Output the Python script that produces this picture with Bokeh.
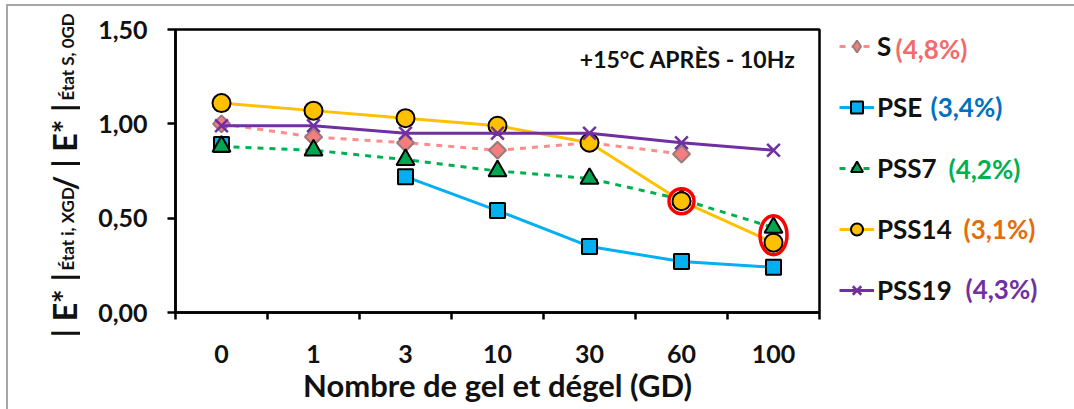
import math
from bokeh.plotting import figure
from bokeh.layouts import row
from bokeh.models import FixedTicker, Label, Legend, LegendItem, Range1d
from bokeh.embed import file_html
from bokeh.resources import INLINE

nan = float("nan")

categories = ["0", "1", "3", "10", "30", "60", "100"]
S = [1.00, 0.93, 0.90, 0.86, 0.90, 0.84, nan]
PSE = [0.89, nan, 0.72, 0.54, 0.35, 0.27, 0.24]
PSS7 = [0.88, 0.86, 0.81, 0.75, 0.71, 0.60, 0.45]
PSS14 = [1.11, 1.07, 1.03, 0.99, 0.90, 0.59, 0.37]
PSS19 = [0.99, 0.99, 0.95, 0.95, 0.95, 0.90, 0.86]

series_names = ["S", "PSE", "PSS7", "PSS14", "PSS19"]
series_pct = ["(4,8%)", "(3,4%)", "(4,2%)", "(3,1%)", "(4,3%)"]
pct_colors = ["#F26B6B", "#0070C0", "#00B050", "#E46C0A", "#7030A0"]
y_ticks = [0.0, 0.5, 1.0, 1.5]
y_tick_labels = ["0,00", "0,50", "1,00", "1,50"]

xs = list(range(len(categories)))
FONT = "Lato"
TXT = "#111111"
H = 403

# ---------------- main chart ----------------
p = figure(width=742, height=H, output_backend="svg", toolbar_location=None,
           x_range=(-0.5, len(categories) - 0.5), y_range=(0, 1.5),
           min_border_left=95, min_border_right=3, min_border_top=23,
           min_border_bottom=97, background_fill_color="white",
           border_fill_color="white", frame_align=False)
p.grid.visible = False
p.outline_line_color = "black"
p.outline_line_width = 2.5

p.xaxis.ticker = FixedTicker(ticks=xs, minor_ticks=[i - 0.5 for i in range(len(categories) + 1)])
p.xaxis.major_label_overrides = {i: c for i, c in zip(xs, categories)}
p.xaxis.major_tick_out = 0
p.xaxis.major_tick_in = 0
p.xaxis.minor_tick_out = 7
p.xaxis.minor_tick_in = 0
p.xaxis.major_label_standoff = 25
p.xaxis.axis_label = "Nombre de gel et dégel (GD)"
p.xaxis.axis_label_standoff = 0
p.xaxis.axis_label_text_font = FONT
p.xaxis.axis_label_text_font_style = "bold"
p.xaxis.axis_label_text_font_size = "31px"
p.xaxis.axis_label_text_color = TXT
p.yaxis.ticker = FixedTicker(ticks=y_ticks)
p.yaxis.major_label_overrides = {t: l for t, l in zip(y_ticks, y_tick_labels)}
p.yaxis.major_tick_out = 8
p.yaxis.major_tick_in = 0
p.yaxis.minor_tick_out = 0
p.yaxis.minor_tick_in = 0
p.yaxis.major_label_standoff = 20
for ax in (p.xaxis, p.yaxis):
    ax.axis_line_width = 2.5
    ax.axis_line_color = "black"
    ax.major_tick_line_width = 2.5
    ax.minor_tick_line_width = 2.5
    ax.major_tick_line_color = "black"
    ax.minor_tick_line_color = "black"
    ax.major_label_text_font = FONT
    ax.major_label_text_font_style = "bold"
    ax.major_label_text_font_size = "25px"
    ax.major_label_text_color = TXT

styles = [
    dict(color="#FF8C8C", dash="dashed", marker="square", angle=math.pi / 4, size=12,
         fill="#F47E7E", mline="#9a7a7a", lmarker="diamond"),
    dict(color="#00B0F0", dash="solid", marker="square", angle=0, size=15,
         fill="#00B0F0", mline="black", lmarker="square"),
    dict(color="#00B050", dash="dashed", marker="triangle", angle=0, size=18,
         fill="#00A651", mline="black", lmarker="triangle"),
    dict(color="#FFC000", dash="solid", marker="circle", angle=0, size=18,
         fill="#FFC000", mline="black", lmarker="circle"),
    dict(color="#7030A0", dash="solid", marker="x", angle=0, size=18,
         fill="#7030A0", mline="#7030A0", lmarker="x"),
]
data = [S, PSE, PSS7, PSS14, PSS19]


def draw_series(fig, xv, yv, st, marker=None, angle=None, **kw):
    marker = marker or st["marker"]
    angle = st["angle"] if angle is None else angle
    lr = fig.line(xv, yv, line_color=st["color"], line_width=3, line_dash=st["dash"], **kw)
    if marker == "x":
        sr = fig.scatter(xv, yv, marker="x", size=st["size"], line_color=st["color"],
                         line_width=2.5, **kw)
    else:
        sr = fig.scatter(xv, yv, marker=marker, size=st["size"], angle=angle,
                         fill_color=st["fill"], line_color=st["mline"], line_width=2, **kw)
    return lr, sr


for ys, st in zip(data, styles):
    draw_series(p, xs, ys, st)

# highlight ellipses
p.ellipse(x=[xs[5]], y=[PSS14[5]], width=25, height=25, width_units="screen",
          height_units="screen", fill_color=None, line_color="#FF0000", line_width=3.5)
p.ellipse(x=[xs[6]], y=[(PSS7[6] + PSS14[6]) / 2], width=27, height=39,
          width_units="screen", height_units="screen", fill_color=None,
          line_color="#FF0000", line_width=3.5)

p.add_layout(Label(x=620, y=254, x_units="screen", y_units="screen",
                   text="+15°C APRÈS - 10Hz", text_align="right",
                   text_baseline="alphabetic", text_font=FONT, text_font_style="bold",
                   text_font_size="23px", text_color=TXT))

# ---------------- left: y-axis title ----------------
lf = figure(width=72, height=H, output_backend="svg", toolbar_location=None,
            x_range=(0, 72), y_range=(0, H), min_border=0, outline_line_color=None,
            x_axis_location=None, y_axis_location=None, frame_align=False,
            border_fill_color="white", background_fill_color="white")
lf.grid.visible = False
ylab = [("| E* |", 56, 72, "32px"), ("État i, XGD", 59, 139, "17px"),
        ("/ | E* |", 56, 219, "32px"), ("État S, 0GD", 59, 309, "17px")]
for t, x, y, fs in ylab:
    lf.add_layout(Label(x=x, y=y, text=t, angle=math.pi / 2, text_align="left",
                        text_baseline="alphabetic", text_font=FONT,
                        text_font_style="bold", text_font_size=fs, text_color=TXT))

# ---------------- right: legend ----------------
rf = figure(width=252, height=H, output_backend="svg", toolbar_location=None,
            x_range=(0, 252), y_range=(0, H), min_border=0, outline_line_color=None,
            x_axis_location=None, y_axis_location=None, frame_align=False,
            border_fill_color="white", background_fill_color="white")
rf.grid.visible = False
# legend renderers carry the series but live on an off-screen range (only swatches show)
rf.extra_x_ranges = {"off": Range1d(start=1000, end=1001)}
items = []
for name, ys, st in zip(series_names, data, styles):
    lr, sr = draw_series(rf, xs, ys, st, marker=st["lmarker"], angle=0, x_range_name="off")
    items.append(LegendItem(label=name, renderers=[lr, sr]))
legend = Legend(items=items, location=(17, 103), padding=0, margin=0, spacing=29,
                glyph_width=35, glyph_height=30, label_height=30, label_standoff=3,
                label_text_font=FONT, label_text_font_style="bold",
                label_text_font_size="26px", label_text_color=TXT,
                border_line_color=None, background_fill_alpha=0)
rf.add_layout(legend, "center")
pct_x = [73, 108, 126, 141, 143]
pct_y = [361, 303, 241, 181, 121]
for t, c, x, y in zip(series_pct, pct_colors, pct_x, pct_y):
    rf.add_layout(Label(x=x, y=y, text=t, text_color=c, text_font=FONT,
                        text_font_style="bold", text_font_size="26px",
                        text_baseline="middle"))

layout = row(lf, p, rf, margin=(4, 0, 0, 6),
             styles={"border-left": "2px solid #a6a6a6", "border-top": "2px solid #a6a6a6"})

open("out.html", "w").write(file_html(layout, INLINE))
